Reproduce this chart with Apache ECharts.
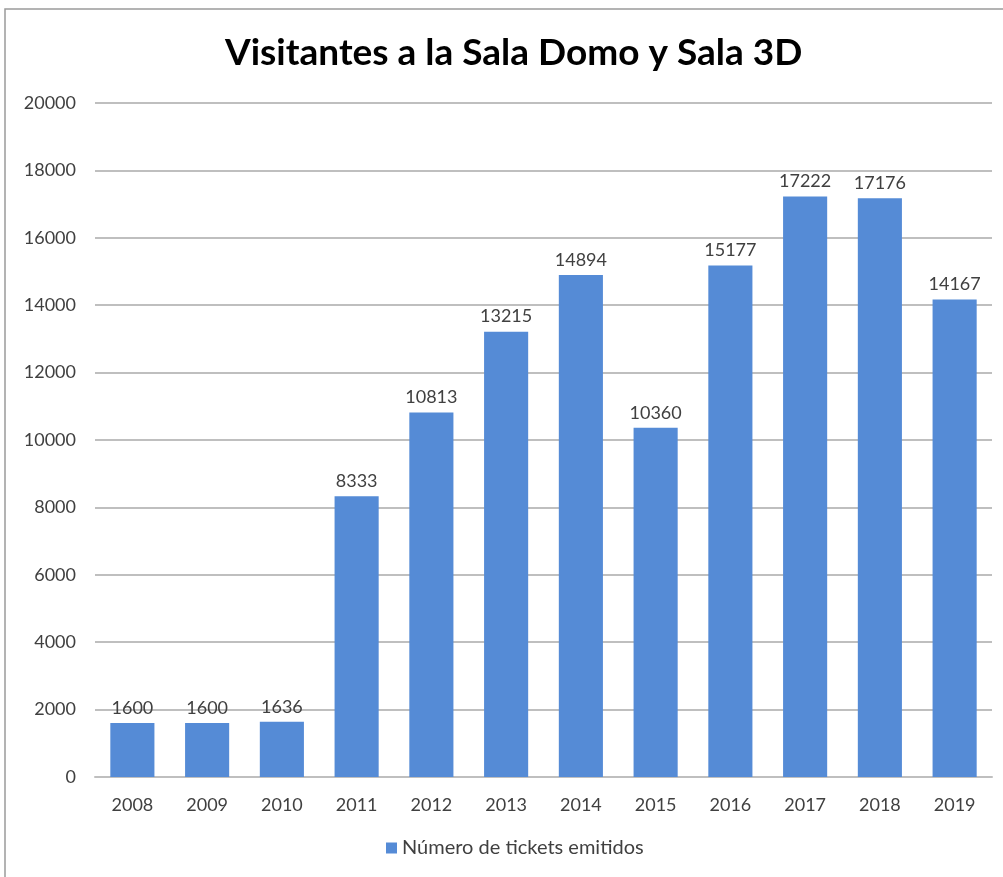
<!DOCTYPE html>
<html><head><meta charset="utf-8">
<script src="https://cdn.jsdelivr.net/npm/echarts@6/dist/echarts.min.js"></script>
<style>html,body{margin:0;padding:0;background:#fff}#c{width:1003px;height:877px}</style>
</head><body><div id="c"></div>
<script>
const categories = ['2008','2009','2010','2011','2012','2013','2014','2015','2016','2017','2018','2019'];
const tickets = [1600,1600,1636,8333,10813,13215,14894,10360,15177,17222,17176,14167];
const seriesName = 'Número de tickets emitidos';
const titleText = 'Visitantes a la Sala Domo y Sala 3D';

const chart = echarts.init(document.getElementById('c'));
const font = 'Lato, "Open Sans", sans-serif';
chart.setOption({
  animation:false,
  graphic:[{type:'rect',shape:{x:5,y:9,width:1010,height:880},style:{fill:'none',stroke:'#9a9a9a',lineWidth:1.5}}],
  title:{text:titleText,left:220,top:30,textStyle:{fontFamily:font,fontWeight:'bold',fontSize:37,color:'#000'}},
  legend:{bottom:14,left:381,itemWidth:11,itemHeight:11,icon:'rect',itemGap:5,
    textStyle:{fontFamily:font,fontSize:20,color:'#404040'}},
  grid:{left:95,right:11,top:103,bottom:100,containLabel:false},
  xAxis:{type:'category',data:categories,
    axisLine:{lineStyle:{color:'#bfbfbf',width:2}},axisTick:{show:false},
    axisLabel:{fontFamily:font,fontSize:18,color:'#404040',margin:19}},
  yAxis:{type:'value',min:0,max:20000,interval:2000,
    axisLine:{show:false},axisTick:{show:false},
    splitLine:{lineStyle:{color:'#bfbfbf',width:2}},
    axisLabel:{fontFamily:font,fontSize:18,color:'#404040',margin:19,formatter:v=>String(v)}},
  series:[{name:seriesName,type:'bar',data:tickets,barCategoryGap:'41%',
    itemStyle:{color:'#558bd6'},
    label:{show:true,position:'top',distance:6,fontFamily:font,fontSize:18,color:'#404040'}}]
});
</script></body></html>
